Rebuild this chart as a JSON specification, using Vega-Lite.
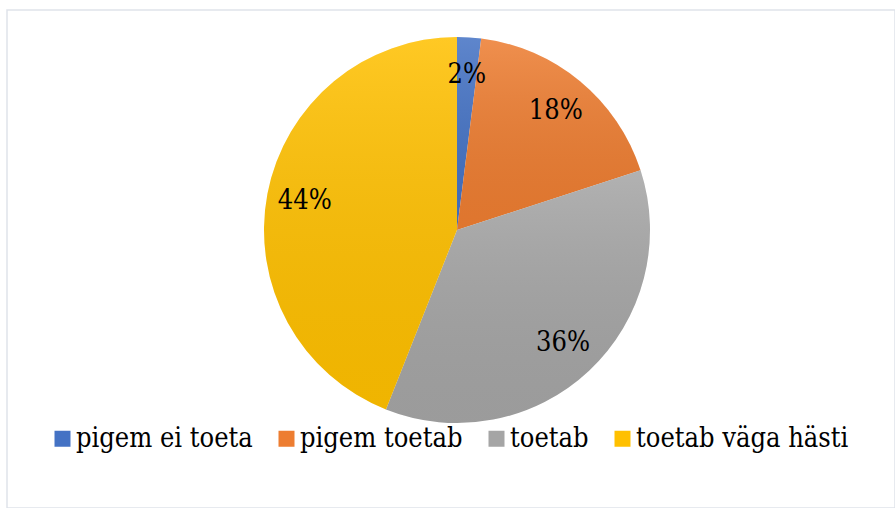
{
  "$schema": "https://vega.github.io/schema/vega-lite/v6.json",
  "width": 888,
  "height": 498,
  "autosize": {"type": "none"},
  "padding": {"left": 7, "top": 10, "right": 0, "bottom": 0},
  "background": "white",
  "view": {"stroke": "#dfe3ea", "strokeWidth": 1.5, "fill": "white"},
  "data": {
    "values": [
      {"kategooria": "pigem ei toeta", "osakaal": 2, "jrk": 1, "silt": "2%"},
      {"kategooria": "pigem toetab", "osakaal": 18, "jrk": 2, "silt": "18%"},
      {"kategooria": "toetab", "osakaal": 36, "jrk": 3, "silt": "36%"},
      {"kategooria": "toetab väga hästi", "osakaal": 44, "jrk": 4, "silt": "44%"}
    ]
  },
  "encoding": {
    "theta": {"field": "osakaal", "type": "quantitative", "stack": true},
    "order": {"field": "jrk", "type": "quantitative"}
  },
  "layer": [
    {
      "mark": {"type": "arc", "radius": 193, "xOffset": 6, "yOffset": -29, "strokeWidth": 0},
      "encoding": {
        "color": {
          "field": "kategooria",
          "type": "nominal",
          "scale": {
            "domain": ["pigem ei toeta", "pigem toetab", "toetab", "toetab väga hästi"],
            "range": ["#4472c4", "#ed7d31", "#a5a5a5", "#ffc000"]
          },
          "legend": {
            "orient": "none",
            "legendX": 42,
            "legendY": 415,
            "direction": "horizontal",
            "title": null,
            "symbolType": "square",
            "symbolSize": 256,
            "symbolStrokeWidth": 0,
            "symbolOpacity": 1,
            "labelFont": "DejaVu Serif Condensed",
            "labelFontSize": 27,
            "labelColor": "#000000",
            "labelOffset": 0,
            "labelLimit": 400,
            "columnPadding": 20
          }
        }
      }
    },
    {
      "mark": {
        "type": "arc", "radius": 193, "xOffset": 6, "yOffset": -29, "strokeWidth": 0,
        "fill": {"gradient": "linear", "x1": 0, "y1": 0, "x2": 0, "y2": 1, "stops": [{"offset": 0, "color": "rgba(255,255,255,0.14)"}, {"offset": 1, "color": "rgba(0,0,0,0.06)"}]}
      }
    },
    {
      "mark": {"type": "text", "radius": 155, "xOffset": 6, "yOffset": -29, "font": "DejaVu Serif Condensed", "fontSize": 27, "color": "#000000", "align": "center", "baseline": "middle"},
      "encoding": {"text": {"field": "silt", "type": "nominal"}}
    }
  ]
}
